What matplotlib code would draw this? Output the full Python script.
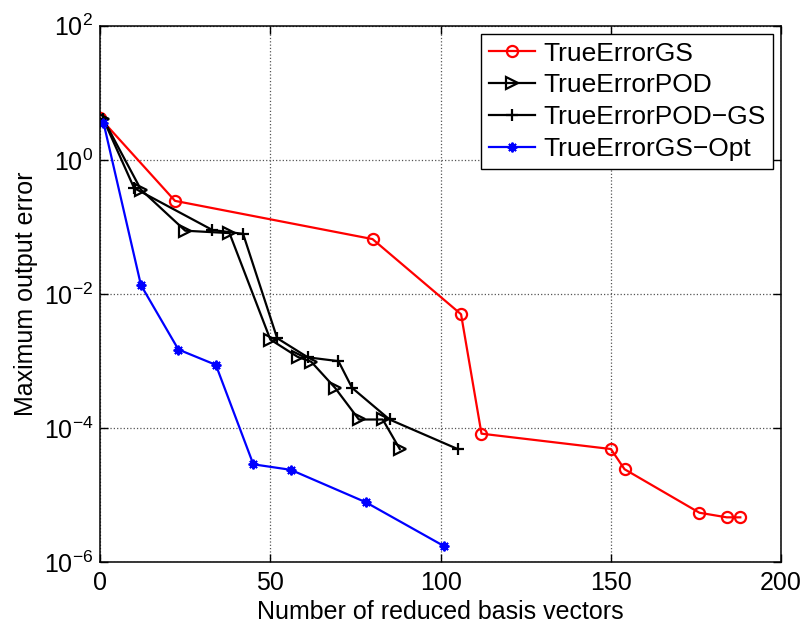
import math

import matplotlib
matplotlib.use("Agg")
import matplotlib.pyplot as plt
import matplotlib.ticker as mticker

plt.rcParams["font.family"] = ["Liberation Sans", "DejaVu Sans"]
plt.rcParams["mathtext.fontset"] = "custom"
plt.rcParams["mathtext.rm"] = "Liberation Sans"
plt.rcParams["mathtext.it"] = "Liberation Sans:italic"

# TrueErrorGS
gs_x = [0, 22, 80, 106, 112, 150, 154, 176, 184, 188]
gs_y = [4.2, 0.245, 0.066, 0.0050, 8.3e-5, 4.9e-5, 2.45e-5, 5.5e-6, 4.7e-6, 4.7e-6]

# TrueErrorPOD
pod_x = [1, 12, 25, 38, 50, 58, 62, 69, 76, 83, 88]
pod_y = [4.0, 0.36, 0.088, 0.081, 0.0021, 0.00116, 9.8e-4, 4.0e-4, 1.35e-4, 1.35e-4, 4.9e-5]

# TrueErrorPOD-GS
podgs_x = [1, 10, 33, 42, 52, 61, 70, 74, 85, 105]
podgs_y = [4.0, 0.38, 0.09, 0.079, 0.0022, 0.00114, 1.0e-3, 4.0e-4, 1.35e-4, 4.9e-5]

# TrueErrorGS-Opt
opt_x = [1, 12, 23, 34, 45, 56, 78, 101]
opt_y = [3.6, 0.0136, 0.00149, 8.8e-4, 2.9e-5, 2.4e-5, 7.9e-6, 1.75e-6]

fig = plt.figure(figsize=(8.07, 6.27), dpi=100)
ax = fig.add_axes([0.124, 0.103, 0.844, 0.856])

lw = 1.6
ax.plot(gs_x, gs_y, color="red", lw=lw, marker="o", ms=8, mfc="none", mew=1.6,
        label="TrueErrorGS")
ax.plot(pod_x, pod_y, color="black", lw=lw, marker=">", ms=8, mfc="none", mew=1.6,
        label="TrueErrorPOD")
ax.plot(podgs_x, podgs_y, color="black", lw=lw, marker="+", ms=9, mew=1.6,
        label="TrueErrorPOD\u2212GS")
ax.plot(opt_x, opt_y, color="blue", lw=lw, marker=(8, 2, 0), ms=7, mew=1.4,
        label="TrueErrorGS\u2212Opt")

ax.set_yscale("log")
ax.set_xlim(0, 200)
ax.set_ylim(1e-6, 1e2)
ax.xaxis.set_major_locator(mticker.MultipleLocator(50))
ax.yaxis.set_major_locator(mticker.FixedLocator([1e-6, 1e-4, 1e-2, 1e0, 1e2]))
ax.yaxis.set_minor_locator(mticker.NullLocator())
ax.yaxis.set_major_formatter(mticker.FuncFormatter(
    lambda v, p: r"$10^{%d}$" % round(math.log10(v))))

ax.tick_params(which="both", direction="in", top=True, right=True,
               labelsize=18, length=6, width=1)
ax.tick_params(axis="x", pad=6)
ax.tick_params(axis="y", pad=5)
ax.grid(True, linestyle=":", color="#555555", linewidth=0.9)
for s in ax.spines.values():
    s.set_linewidth(1.1)

ax.set_xlabel("Number of reduced basis vectors", fontsize=18, labelpad=4)
ax.set_ylabel("Maximum output error", fontsize=18, labelpad=4)

leg = ax.legend(loc="upper right", fontsize=19, fancybox=False, framealpha=1,
                edgecolor="black", borderaxespad=0.3, handlelength=1.75,
                labelspacing=0.3, borderpad=0.3, handletextpad=0.3)
leg.get_frame().set_linewidth(1.0)

fig.savefig("out.png", dpi=100)
